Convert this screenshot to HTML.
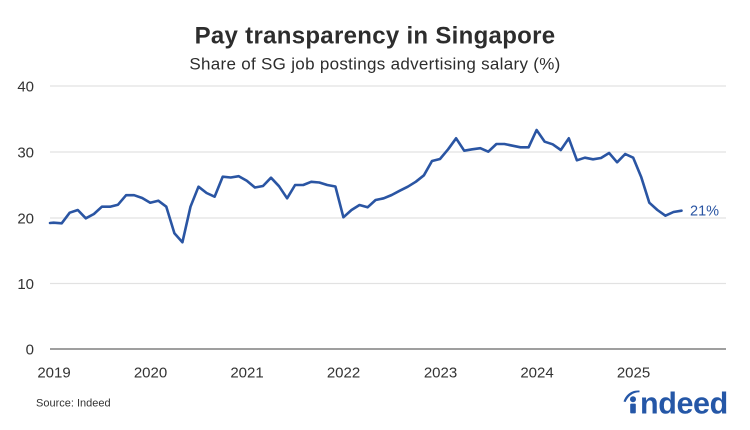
<!DOCTYPE html>
<html>
<head>
<meta charset="utf-8">
<style>
  html, body { margin:0; padding:0; background:#ffffff; }
  body { width:750px; height:430px; overflow:hidden; }
  svg { display:block; font-family:"Liberation Sans", sans-serif; }
</style>
</head>
<body>
<svg width="750" height="430" viewBox="0 0 750 430" xmlns="http://www.w3.org/2000/svg">
  <rect x="0" y="0" width="750" height="430" fill="#ffffff"/>

  <!-- Title -->
  <text x="375" y="43.5" text-anchor="middle" font-size="24" font-weight="bold" fill="#2d2d2d" letter-spacing="0.3">Pay transparency in Singapore</text>
  <text x="375" y="69.5" text-anchor="middle" font-size="17" fill="#2d2d2d" letter-spacing="0.3">Share of SG job postings advertising salary (%)</text>

  <!-- Gridlines -->
  <g stroke="#e2e2e2" stroke-width="1.2">
    <line x1="50" y1="86" x2="726" y2="86"/>
    <line x1="50" y1="152" x2="726" y2="152"/>
    <line x1="50" y1="218" x2="726" y2="218"/>
    <line x1="50" y1="283.5" x2="726" y2="283.5"/>
  </g>
  <line x1="50" y1="349" x2="726" y2="349" stroke="#666666" stroke-width="1.3"/>

  <!-- Y labels -->
  <g font-size="15" fill="#333333" text-anchor="end">
    <text x="34" y="91.5">40</text>
    <text x="34" y="157.5">30</text>
    <text x="34" y="223.5">20</text>
    <text x="34" y="289">10</text>
    <text x="34" y="354.5">0</text>
  </g>

  <!-- X labels -->
  <g font-size="15" fill="#333333" text-anchor="middle">
    <text x="54" y="377.5">2019</text>
    <text x="150.5" y="377.5">2020</text>
    <text x="247" y="377.5">2021</text>
    <text x="343.5" y="377.5">2022</text>
    <text x="440.5" y="377.5">2023</text>
    <text x="537" y="377.5">2024</text>
    <text x="633.5" y="377.5">2025</text>
  </g>

  <!-- Series -->
  <polyline fill="none" stroke="#2a55a3" stroke-width="2.6" stroke-linejoin="round" stroke-linecap="round"
    points="50,223 53.6,222.7 61.7,223.3 69.7,212.7 77.8,210 85.8,218.3 93.9,214 101.9,206.7 110,206.7 118,204.7 126.1,195.2 134.1,195.2 142.2,198 150.2,202.7 158.3,200.7 166.3,206.7 174.4,233.3 182.4,242.3 190.5,206.7 198.5,186.7 206.6,193 214.6,196.7 222.7,176.7 230.7,177.5 238.8,176.2 246.8,180.7 254.9,187.5 263,186 271,177.7 279,186.2 287.1,198.3 295.1,185 303.2,185 311.2,181.8 319.3,182.5 327.3,185 335.4,186.5 343.4,217.3 351.5,210 359.5,205 367.6,207.3 375.6,200 383.7,198.3 391.7,195 399.8,190.7 407.8,186.7 415.9,181.7 423.9,175.3 432,161 440,159 448.1,149.3 456.1,138.3 464.2,150.7 472.2,149.3 480.3,148.2 488.3,151.7 496.4,144 504.4,144 512.5,145.7 520.5,147.3 528.6,147.3 536.6,130 544.7,141.7 552.7,144.3 560.8,150 568.8,138.3 576.9,160.3 584.9,157.7 593,159.3 601,158 609.1,153 617.1,162.3 625.2,154 633.2,157.7 641.3,177.3 649.3,202.7 657.4,210 665.4,215.7 673.5,212 681.5,210.7"/>

  <text x="690" y="215.5" font-size="14.5" fill="#2a55a3">21%</text>

  <!-- Source -->
  <text x="36" y="406.5" font-size="11" fill="#333333">Source: Indeed</text>

  <!-- Indeed logo -->
  <g fill="#2557a7">
    <path d="M623.5,401.5 C626,394 632,390 639.5,390.5 L639.5,392.2 C633.5,392.2 628.5,395.5 625.6,402 Z"/>
    <circle cx="633" cy="399.3" r="3"/>
    <rect x="630.2" y="403.6" width="5.6" height="9.8" rx="1"/>
    <text x="640" y="413.4" font-size="30.5" font-weight="bold" letter-spacing="-0.4">ndeed</text>
  </g>
</svg>
</body>
</html>
